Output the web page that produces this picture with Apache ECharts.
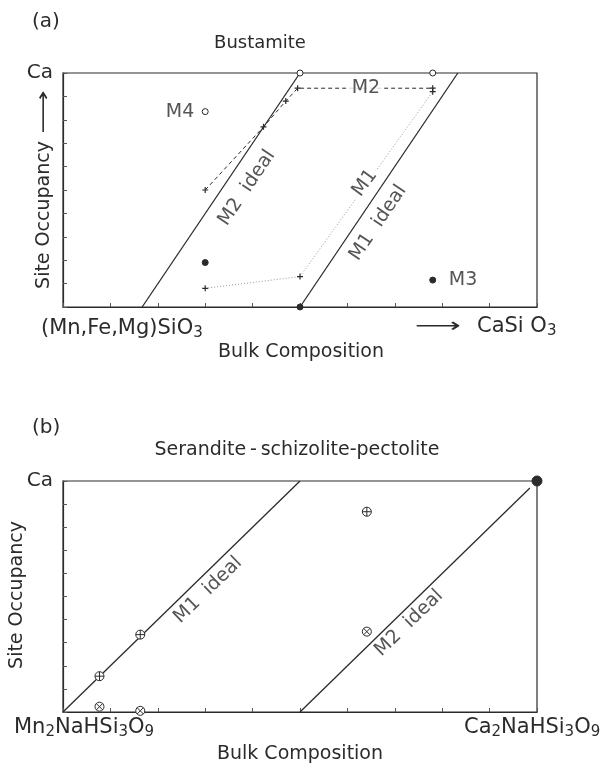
<!DOCTYPE html>
<html>
<head>
<meta charset="utf-8">
<script src="https://cdn.jsdelivr.net/npm/echarts@6/dist/echarts.min.js"></script>
<style>
html, body { margin: 0; padding: 0; background: #fff; }
#chart { width: 612px; height: 772px; }
</style>
</head>
<body>
<div id="chart"></div>
<script>
// ---- panel (a) Bustamite ----
var aM2Ideal = [[0.167, 0], [0.5, 1]];
var aM1Ideal = [[0.5, 0], [0.833, 1]];
var aM2Obs = [[0.30, 0.50], [0.423, 0.77], [0.47, 0.88], [0.495, 0.935], [0.78, 0.935]];
var aM1Obs = [[0.30, 0.08], [0.50, 0.13], [0.78, 0.92]];
var aOpen = [[0.5, 1], [0.78, 1], [0.30, 0.835]];
var aFilled = [[0.30, 0.19], [0.5, 0], [0.78, 0.115]];
var aLabels = [
  ['M2  ideal', 0.388, 0.509, 56],
  ['M1  ideal', 0.665, 0.359, 56],
  ['M1', 0.637, 0.530, 54],
  ['M2', 0.639, 0.936, 0],
  ['M4', 0.247, 0.833, 0],
  ['M3', 0.844, 0.115, 0]
];

// ---- panel (b) Serandite-schizolite-pectolite ----
var bM1Ideal = [[0, 0], [0.5, 1]];
var bM2Ideal = [[0.5, 0], [0.985, 0.97]];
var bPlusCircle = [[0.077, 0.155], [0.163, 0.335], [0.641, 0.867]];
var bCrossCircle = [[0.077, 0.023], [0.163, 0.005], [0.641, 0.348]];
var bFilled = [[1, 1]];
var bLabels = [
  ['M1  ideal', 0.306, 0.528, 44],
  ['M2  ideal', 0.730, 0.385, 44]
];

var FONT = 'DejaVu Sans';
var INK = '#2b2b2b';
var PLUS = 'path://M4,0H6V10H4Z M0,4H10V6H0Z';
var OPLUS = 'path://M0,5a5,5 0 1,0 10,0a5,5 0 1,0 -10,0Z M5,0V10 M0,5H10';
var OTIMES = 'path://M0,5a5,5 0 1,0 10,0a5,5 0 1,0 -10,0Z M1.5,1.5L8.5,8.5 M8.5,1.5L1.5,8.5';
var SUB = { s: { fontSize: 15, lineHeight: 12, verticalAlign: 'bottom', fontFamily: FONT, fill: INK } };

function axisX(i) {
  return {
    type: 'value', gridIndex: i, min: 0, max: 1, interval: 0.1,
    axisLine: { show: true, lineStyle: { color: INK, width: 1.2 } },
    axisTick: { show: true, inside: true, length: 4, lineStyle: { color: '#555' } },
    axisLabel: { show: false },
    splitLine: { show: false }
  };
}
function axisY(i) {
  return {
    type: 'value', gridIndex: i, min: 0, max: 1, interval: 0.1,
    axisLine: { show: true, lineStyle: { color: INK, width: 1.2 } },
    axisTick: { show: true, inside: true, length: 4, lineStyle: { color: '#555' } },
    axisLabel: {
      show: true, margin: 10, fontSize: 20, fontFamily: FONT, color: INK,
      formatter: function (v) { return Math.abs(v - 1) < 1e-6 ? 'Ca' : ''; }
    },
    splitLine: { show: false }
  };
}
function ideal(data, i) {
  return {
    type: 'line', xAxisIndex: i, yAxisIndex: i, data: data, symbol: 'none',
    lineStyle: { color: INK, width: 1.3 }, z: 2, silent: true
  };
}
function dots(data, i, symbol, size, fill) {
  return {
    type: 'scatter', xAxisIndex: i, yAxisIndex: i, data: data, symbol: symbol,
    symbolSize: size, clip: false, z: 5, silent: true,
    itemStyle: { color: fill, borderColor: INK, borderWidth: 1, opacity: 1 }
  };
}
function labels(list, i) {
  return {
    type: 'scatter', xAxisIndex: i, yAxisIndex: i, symbolSize: 0.1, z: 8, silent: true,
    data: list.map(function (d) {
      var boxed = d[0] === 'M1' || d[0] === 'M2';
      return {
        value: [d[1], d[2]],
        label: {
          show: true, position: 'inside', formatter: d[0], rotate: d[3],
          fontSize: 19, fontFamily: FONT, color: INK,
          backgroundColor: boxed ? '#fff' : 'transparent', padding: boxed ? [0, 4] : 0
        }
      };
    })
  };
}
function txt(x, y, text, size, align, rot, sx) {
  return {
    type: 'text', x: x, y: y, rotation: rot || 0, scaleX: sx || 1, silent: true,
    style: {
      text: text, fontSize: size, fontFamily: FONT, fill: INK, lineHeight: 24,
      align: align || 'center', verticalAlign: 'middle', rich: SUB
    }
  };
}

var chart = echarts.init(document.getElementById('chart'));
chart.setOption({
  animation: false,
  backgroundColor: '#fff',
  grid: [
    { left: 63, top: 73, width: 474, height: 234, show: true, borderColor: INK, borderWidth: 1.2 },
    { left: 63, top: 481, width: 474, height: 231, show: true, borderColor: INK, borderWidth: 1.2 }
  ],
  xAxis: [axisX(0), axisX(1)],
  yAxis: [axisY(0), axisY(1)],
  graphic: [
    txt(32, 22, '(a)', 20, 'left'),
    txt(260, 43, 'Bustamite', 18),
    txt(44, 215, 'Site Occupancy', 19, 'center', Math.PI / 2),
    txt(44, 112, '\u27F6', 19, 'center', Math.PI / 2, 1.6),
    txt(41, 329, '(Mn,Fe,Mg)SiO{s|3}', 21, 'left'),
    txt(415, 327, '\u27F6', 20, 'left', 0, 1.6),
    txt(477, 327, 'CaSi O{s|3}', 21, 'left'),
    txt(301, 352, 'Bulk Composition', 19),
    txt(32, 428, '(b)', 20, 'left'),
    txt(297, 450, 'Serandite\u2009-\u2009schizolite-pectolite', 19),
    txt(17, 595, 'Site Occupancy', 19, 'center', Math.PI / 2),
    txt(14, 728, 'Mn{s|2}NaHSi{s|3}O{s|9}', 21, 'left'),
    txt(464, 728, 'Ca{s|2}NaHSi{s|3}O{s|9}', 21, 'left'),
    txt(300, 754, 'Bulk Composition', 19)
  ],
  series: [
    ideal(aM2Ideal, 0),
    ideal(aM1Ideal, 0),
    {
      type: 'line', xAxisIndex: 0, yAxisIndex: 0, data: aM2Obs, symbol: PLUS, symbolSize: 6,
      lineStyle: { color: INK, width: 1, type: [4, 3] }, itemStyle: { color: INK }, z: 3, silent: true
    },
    {
      type: 'line', xAxisIndex: 0, yAxisIndex: 0, data: aM1Obs, symbol: PLUS, symbolSize: 6,
      lineStyle: { color: '#9a9a9a', width: 1, type: [1, 2] }, itemStyle: { color: INK }, z: 3, silent: true
    },
    dots(aOpen, 0, 'circle', 6, '#fff'),
    dots(aFilled, 0, 'circle', 6, INK),
    labels(aLabels, 0),

    ideal(bM1Ideal, 1),
    ideal(bM2Ideal, 1),
    dots(bPlusCircle, 1, OPLUS, 9, '#fff'),
    dots(bCrossCircle, 1, OTIMES, 9, '#fff'),
    dots(bFilled, 1, 'circle', 10, INK),
    labels(bLabels, 1)
  ]
});
</script>
</body>
</html>
